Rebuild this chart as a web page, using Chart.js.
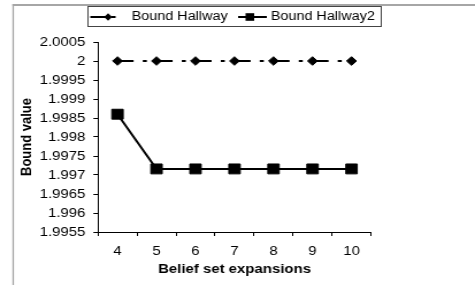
<!DOCTYPE html>
<html>
<head>
<meta charset="utf-8">
<script src="https://cdn.jsdelivr.net/npm/chart.js@4"></script>
<style>
  html, body { margin: 0; padding: 0; background: #fff; }
  #chart { display: block; }
</style>
</head>
<body>
<canvas id="chart" width="413" height="285" style="width:475px;height:285px"></canvas>
<script>
// Values
const expansions = ["4", "5", "6", "7", "8", "9", "10"];
const boundHallway = [2, 2, 2, 2, 2, 2, 2];
const boundHallway2 = [1.9986, 1.99716, 1.99716, 1.99716, 1.99716, 1.99716, 1.99716];
const seriesNames = ["Bound Hallway", "Bound Hallway2"];
const yMin = 1.9955;
const yMax = 2.0005;
const yStep = 0.0005;

Chart.defaults.font.family = "'Liberation Sans', Arial, sans-serif";
Chart.defaults.color = "#000";

// The original is stretched sideways, so the canvas is drawn 413 wide and css scales it to 475.

// Grey frame behind, hand made legend box on top
const framePlugin = {
  id: "frame",
  beforeDraw(chart) {
    const ctx = chart.ctx;
    ctx.save();
    ctx.fillStyle = "#fff";
    ctx.fillRect(0, 0, chart.width, chart.height);
    ctx.fillStyle = "#a6a6a6";
    ctx.fillRect(10.8, 4, chart.width, 2);
    ctx.fillRect(10.8, 4, 1.3, chart.height);
    ctx.restore();
  },
  afterDraw(chart) {
    const ctx = chart.ctx;
    const y = 17;
    ctx.save();
    ctx.strokeStyle = "#444";
    ctx.lineWidth = 1;
    ctx.strokeRect(76.5, 6.5, 255, 20);

    ctx.strokeStyle = "#000";
    ctx.fillStyle = "#000";
    ctx.lineWidth = 2;
    // item 1: dash-dot line with diamond
    ctx.beginPath();
    ctx.moveTo(78.5, y); ctx.lineTo(92, y);
    ctx.moveTo(97, y); ctx.lineTo(100.5, y);
    ctx.stroke();
    ctx.beginPath();
    ctx.moveTo(94, y - 3.8); ctx.lineTo(97.5, y); ctx.lineTo(94, y + 3.8); ctx.lineTo(90.5, y);
    ctx.closePath();
    ctx.fill();
    // item 2: solid line with square
    ctx.beginPath();
    ctx.moveTo(207, y); ctx.lineTo(232, y);
    ctx.stroke();
    ctx.fillRect(213.5, y - 3.8, 7.5, 7.6);

    ctx.font = "12.5px 'Liberation Sans', Arial, sans-serif";
    ctx.textBaseline = "middle";
    ctx.fillText(seriesNames[0], 114.5, y);
    ctx.fillText(seriesNames[1], 235.5, y);
    ctx.restore();
  }
};

new Chart(document.getElementById("chart"), {
  type: "line",
  data: {
    labels: expansions,
    datasets: [
      {
        label: seriesNames[0],
        data: boundHallway,
        borderColor: "#000",
        backgroundColor: "#000",
        borderWidth: 2,
        borderDash: [14, 8, 3.5, 8.4],
        pointStyle: "rectRot",
        pointRadius: 4.3,
        pointBorderWidth: 1,
        tension: 0
      },
      {
        label: seriesNames[1],
        data: boundHallway2,
        borderColor: "#000",
        backgroundColor: "#000",
        borderWidth: 2,
        pointStyle: "rect",
        pointRadius: 7,
        pointBorderWidth: 1,
        tension: 0
      }
    ]
  },
  options: {
    responsive: false,
    animation: false,
    devicePixelRatio: 1,
    layout: { padding: { left: 0, right: 90.4, top: 42, bottom: 0 } },
    plugins: {
      legend: { display: false },
      tooltip: { enabled: false }
    },
    scales: {
      x: {
        offset: true,
        grid: { offset: true, drawOnChartArea: false, color: "#000", tickLength: 4 },
        border: { color: "#000" },
        ticks: { font: { size: 13 }, padding: 8, maxRotation: 0 },
        title: {
          display: true,
          text: "Belief set expansions",
          font: { size: 13, weight: "bold" },
          padding: { top: 0, bottom: 8 }
        },
        afterFit: s => { s.height = 53; }
      },
      y: {
        min: yMin,
        max: yMax,
        grid: { drawOnChartArea: false, color: "#000", tickLength: 4 },
        border: { color: "#000" },
        ticks: {
          stepSize: yStep,
          padding: 7,
          font: { size: 13 },
          callback: v => String(Number(v.toFixed(4)))
        },
        title: {
          display: true,
          text: "Bound value",
          font: { size: 13, weight: "bold" },
          padding: { top: 16, bottom: 0 }
        },
        afterFit: s => { s.width = 85.2; }
      }
    }
  },
  plugins: [framePlugin]
});
</script>
</body>
</html>
